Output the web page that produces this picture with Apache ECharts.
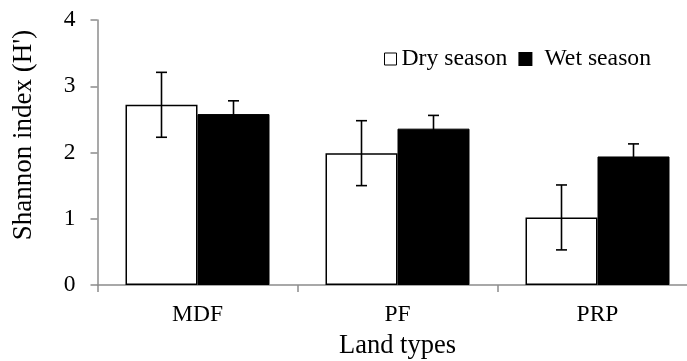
<!DOCTYPE html>
<html><head><meta charset="utf-8">
<script src="https://cdn.jsdelivr.net/npm/echarts@6/dist/echarts.min.js"></script>
<style>html,body{margin:0;padding:0;background:#fff}#c{width:687px;height:361px}</style>
</head><body><div id="c"></div>
<script>
const categories = ['MDF', 'PF', 'PRP'];
const dryValues = [2.72, 1.99, 1.02];
const dryErrors = [0.49, 0.49, 0.49];
const wetValues = [2.58, 2.36, 1.94];
const wetErrors = [0.20, 0.20, 0.19];
const yTicks = [0, 1, 2, 3, 4];

const FONT = 'Liberation Serif';
const chart = echarts.init(document.getElementById('c'));

function errSeries(name, values, errors, side) {
  return {
    type: 'custom', name: name + ' err', silent: true, z: 10,
    data: values.map((v, i) => [i, v, errors[i]]),
    renderItem: function (params, api) {
      const i = api.value(0), v = api.value(1), e = api.value(2);
      const band = api.size([1, 0])[0];
      const dx = side * band * 0.18;
      const top = api.coord([i, v + e]);
      const bot = api.coord([i, v - e]);
      const x = top[0] + dx;
      const cap = 5.5;
      const st = { stroke: '#000', lineWidth: 1.6 };
      return { type: 'group', children: [
        { type: 'line', shape: { x1: x, y1: top[1], x2: x, y2: bot[1] }, style: st },
        { type: 'line', shape: { x1: x - cap, y1: top[1], x2: x + cap, y2: top[1] }, style: st },
        { type: 'line', shape: { x1: x - cap, y1: bot[1], x2: x + cap, y2: bot[1] }, style: st }
      ]};
    }
  };
}

chart.setOption({
  animation: false,
  backgroundColor: '#fff',
  textStyle: { fontFamily: FONT },
  grid: { left: 97.5, width: 600, top: 20, bottom: 76, containLabel: false, outerBoundsMode: 'none' },
  legend: {
    top: 47, left: 384, padding: 0,
    itemWidth: 12, itemHeight: 12, itemGap: 11,
    textStyle: { fontFamily: FONT, fontSize: 23.7, color: '#000' },
    data: [
      { name: 'Dry season', icon: 'rect', itemStyle: { color: '#fff', borderColor: '#000', borderWidth: 1 } },
      { name: 'Wet season', icon: 'rect', itemStyle: { color: '#000' },
        textStyle: { padding: [0, 0, 0, 8] } }
    ]
  },
  xAxis: {
    type: 'category', data: categories,
    name: 'Land types', nameLocation: 'middle', nameGap: 48,
    nameTextStyle: { fontFamily: FONT, fontSize: 26.5, color: '#000' },
    axisLine: { lineStyle: { color: '#8c8c8c', width: 1.5 } },
    axisTick: { show: true, length: 7, lineStyle: { color: '#8c8c8c', width: 1.5 } },
    axisLabel: { fontFamily: FONT, fontSize: 23.5, color: '#000', margin: 18 }
  },
  yAxis: {
    type: 'value', min: yTicks[0], max: yTicks[yTicks.length - 1], interval: 1,
    name: "Shannon index (H')", nameLocation: 'middle', nameGap: 60,
    nameTextStyle: { fontFamily: FONT, fontSize: 27, color: '#000', padding: [0, 0, 0, 35] },
    axisLine: { show: true, lineStyle: { color: '#8c8c8c', width: 1.5 } },
    axisTick: { show: true, length: 7, lineStyle: { color: '#8c8c8c', width: 1.5 } },
    axisLabel: { fontFamily: FONT, fontSize: 23.5, color: '#000', margin: 22 },
    splitLine: { show: false }
  },
  series: [
    { name: 'Dry season', type: 'bar', data: dryValues, barWidth: '36%', barGap: '0%',
      itemStyle: { color: '#fff', borderColor: '#000', borderWidth: 1.5 } },
    { name: 'Wet season', type: 'bar', data: wetValues, barWidth: '36%',
      itemStyle: { color: '#000', borderColor: '#000', borderWidth: 1 } },
    errSeries('Dry season', dryValues, dryErrors, -1),
    errSeries('Wet season', wetValues, wetErrors, 1)
  ]
});
</script></body></html>
